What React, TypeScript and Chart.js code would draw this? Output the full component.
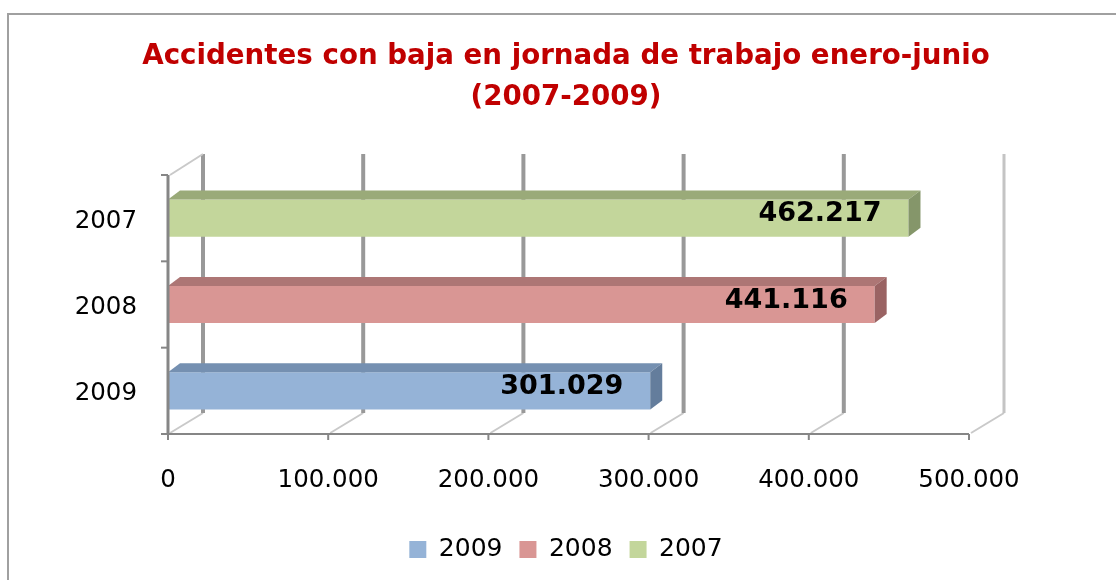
import React, { useEffect, useRef } from 'react';
import { Chart, registerables } from 'chart.js';

Chart.register(...registerables);

const categories = ['2007', '2008', '2009'];
const seriesLabels = ['2009', '2008', '2007'];
const values2009 = [null, null, 301029];
const values2008 = [null, 441116, null];
const values2007 = [462217, null, null];
const xTickValues = [0, 100000, 200000, 300000, 400000, 500000];
const titleLines = ['Accidentes con baja en jornada de trabajo enero-junio', '(2007-2009)'];

const frontColors = ['#95B3D7', '#D99694', '#C3D69B'];
const topColors = ['#7590B1', '#AD7675', '#9AAA79'];
const sideColors = ['#647D9C', '#9A6363', '#85966A'];

const FONT = 'DejaVu Sans';
const WALL_DX = 35;
const WALL_DY = 21;
const BAR_DX = 12;
const BAR_DY = 9;

const fmt = (v: number) =>
  String(Math.round(v)).replace(/\B(?=(\d{3})+(?!\d))/g, '.');

const threeDPlugin = {
  id: 'threeD',
  beforeDatasetsDraw(chart: any) {
    const { ctx, chartArea } = chart;
    const xs = chart.scales.x;
    const { top, bottom, left } = chartArea;
    ctx.save();
    xs.ticks.forEach((t: any, i: number) => {
      const px = xs.getPixelForValue(t.value);
      ctx.strokeStyle = '#c9c9c9';
      ctx.lineWidth = 2;
      ctx.beginPath();
      ctx.moveTo(px + 2, bottom - 1);
      ctx.lineTo(px + WALL_DX, bottom - WALL_DY);
      ctx.stroke();
      const last = i === xs.ticks.length - 1;
      ctx.strokeStyle = last ? '#c4c4c4' : '#999999';
      ctx.lineWidth = last ? 3 : 4;
      ctx.beginPath();
      ctx.moveTo(px + WALL_DX, top - WALL_DY);
      ctx.lineTo(px + WALL_DX, bottom - WALL_DY);
      ctx.stroke();
    });
    ctx.strokeStyle = '#c9c9c9';
    ctx.lineWidth = 2;
    ctx.beginPath();
    ctx.moveTo(left + 2, top);
    ctx.lineTo(left + WALL_DX, top - WALL_DY);
    ctx.stroke();
    ctx.restore();
  },
  afterDatasetsDraw(chart: any) {
    const { ctx, chartArea } = chart;
    const xs = chart.scales.x;
    const ys = chart.scales.y;
    ctx.save();
    chart.data.datasets.forEach((ds: any, di: number) => {
      const meta = chart.getDatasetMeta(di);
      meta.data.forEach((bar: any, j: number) => {
        const v = ds.data[j];
        if (v === null || v === undefined) return;
        const { x, y, base, height } = bar.getProps(['x', 'y', 'base', 'height'], true);
        const t = y - height / 2;
        const b = y + height / 2;
        ctx.fillStyle = topColors[di];
        ctx.beginPath();
        ctx.moveTo(base, t);
        ctx.lineTo(base + BAR_DX, t - BAR_DY);
        ctx.lineTo(x + BAR_DX, t - BAR_DY);
        ctx.lineTo(x, t);
        ctx.closePath();
        ctx.fill();
        ctx.fillStyle = sideColors[di];
        ctx.beginPath();
        ctx.moveTo(x, t);
        ctx.lineTo(x + BAR_DX, t - BAR_DY);
        ctx.lineTo(x + BAR_DX, b - BAR_DY);
        ctx.lineTo(x, b);
        ctx.closePath();
        ctx.fill();
        ctx.fillStyle = '#000';
        ctx.font = `bold 27px "${FONT}"`;
        ctx.textAlign = 'right';
        ctx.textBaseline = 'middle';
        ctx.fillText(fmt(v), x - 27, y - 4);
      });
    });
    const { top, bottom, left, right } = chartArea;
    ctx.strokeStyle = '#868686';
    ctx.lineWidth = 3;
    ctx.beginPath();
    ctx.moveTo(left, top);
    ctx.lineTo(left, bottom + 1);
    ctx.stroke();
    ctx.lineWidth = 2;
    ctx.beginPath();
    ctx.moveTo(left, bottom);
    ctx.lineTo(right, bottom);
    ctx.stroke();
    const n = ys.ticks.length;
    for (let i = 0; i <= n; i++) {
      const py = top + ((bottom - top) * i) / n;
      ctx.beginPath();
      ctx.moveTo(left - 7, py);
      ctx.lineTo(left, py);
      ctx.stroke();
    }
    xs.ticks.forEach((tk: any) => {
      const px = xs.getPixelForValue(tk.value);
      ctx.beginPath();
      ctx.moveTo(px, bottom);
      ctx.lineTo(px, bottom + 6);
      ctx.stroke();
    });
    ctx.restore();
  },
};

export default function App() {
  const canvasRef = useRef<HTMLCanvasElement | null>(null);

  useEffect(() => {
    if (!canvasRef.current) return;
    const seriesValues = [values2009, values2008, values2007];
    const chart = new Chart(canvasRef.current, {
      type: 'bar',
      data: {
        labels: categories,
        datasets: seriesLabels.map((lab, i) => ({
          label: lab,
          data: seriesValues[i] as any,
          backgroundColor: frontColors[i],
          borderWidth: 0,
          grouped: false,
          barPercentage: 0.43,
          categoryPercentage: 1,
          yAxisID: 'y',
        })),
      },
      options: {
        indexAxis: 'y',
        responsive: false,
        animation: false,
        layout: { padding: { left: 16, right: 0, top: 0, bottom: 8 } },
        plugins: {
          title: {
            display: true,
            text: titleLines,
            color: '#C00000',
            font: { family: FONT, size: 27.7, weight: 'bold', lineHeight: 1.48 },
            padding: { top: 36.5, bottom: 56.5 },
          },
          legend: {
            position: 'bottom',
            labels: {
              boxWidth: 17,
              boxHeight: 17,
              padding: 17,
              color: '#000',
              font: { family: FONT, size: 25 },
            },
          },
          tooltip: { enabled: false },
        },
        scales: {
          x: {
            type: 'linear',
            min: 0,
            max: 500000,
            afterBuildTicks: (s: any) => {
              s.ticks = xTickValues.map((v) => ({ value: v }));
            },
            afterFit: (s: any) => {
              s.height = 86;
            },
            grid: { display: false, drawTicks: false },
            border: { display: false },
            ticks: {
              color: '#000',
              padding: 32,
              font: { family: FONT, size: 24.5 },
              maxRotation: 0,
              callback: (v: any) => fmt(Number(v)),
            },
          },
          y: {
            type: 'category',
            position: 'left',
            afterFit: (s: any) => {
              s.width = 152;
            },
            grid: { display: false, drawTicks: false },
            border: { display: false },
            ticks: {
              color: '#000',
              padding: 31,
              labelOffset: 3,
              font: { family: FONT, size: 24.5 },
            },
          },
          yR: {
            type: 'linear',
            position: 'right',
            display: true,
            afterFit: (s: any) => {
              s.width = 147;
            },
            grid: { display: false, drawTicks: false },
            border: { display: false },
            ticks: { display: false },
          },
        },
      } as any,
      plugins: [threeDPlugin],
    });
    return () => chart.destroy();
  }, []);

  return (
    <div style={{ position: 'fixed', left: 0, top: 0, width: 1116, height: 580, overflow: 'hidden', background: '#fff' }}>
      <div
        style={{
          position: 'absolute',
          left: 7,
          top: 13,
          width: 1300,
          height: 800,
          borderLeft: '2px solid #a0a0a0',
          borderTop: '2px solid #a0a0a0',
        }}
      />
      <canvas ref={canvasRef} width={1116} height={580} style={{ position: 'absolute', left: 0, top: 0 }} />
    </div>
  );
}
